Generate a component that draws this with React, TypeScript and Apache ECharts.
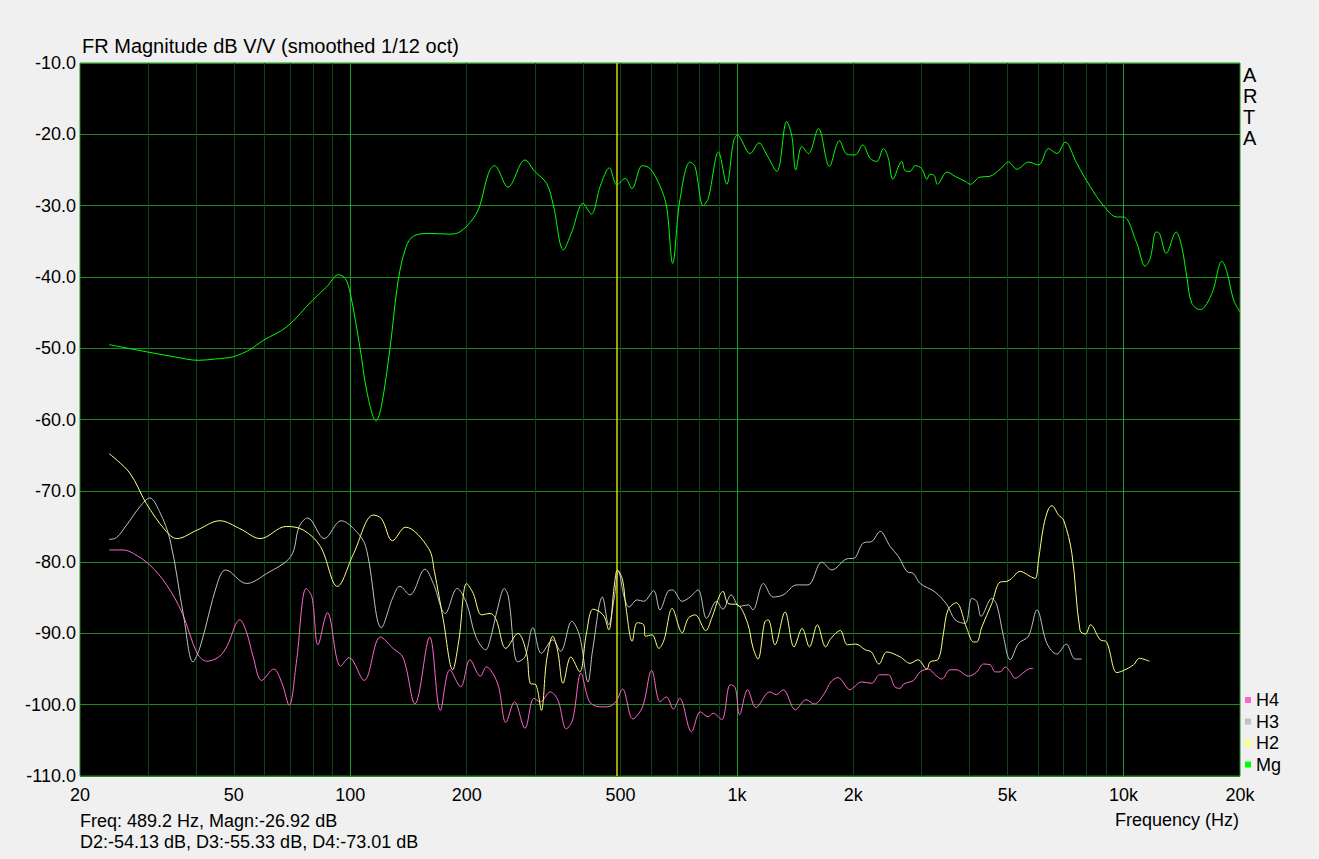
import React, { useEffect, useRef } from "react";
import * as echarts from "echarts";

const FONT = "'Liberation Sans', Arial, Helvetica, sans-serif";

// ---- axis / annotation data ----
const freqLabelValues = [20, 50, 100, 200, 500, 1000, 2000, 5000, 10000, 20000];
const freqLabelTexts = ["20", "50", "100", "200", "500", "1k", "2k", "5k", "10k", "20k"];
const minorGridFreqs = [30, 40, 50, 60, 70, 80, 90, 200, 300, 400, 500, 600, 700, 800, 900, 2000, 3000, 4000, 5000, 6000, 7000, 8000, 9000];
const majorGridFreqs = [100, 1000, 10000];
const cursorFreq = 489.2;
const dbMin = -110;
const dbMax = -10;
const dbStep = 10;

const titleText = "FR Magnitude dB V/V (smoothed 1/12 oct)";
const brandText = "A\nR\nT\nA";
const cursorLine1 = "Freq: 489.2 Hz, Magn:-26.92 dB";
const cursorLine2 = "D2:-54.13 dB, D3:-55.33 dB, D4:-73.01 dB";
const xAxisTitle = "Frequency (Hz)";

const legendOrder = ["H4", "H3", "H2", "Mg"];

// ---- series data: [frequency Hz, dB] ----
const magnitude: [number, number][] = [
  [23.8, -49.5], [29.7, -50.5], [35, -51.2], [40.5, -51.7], [45, -51.5], [49.8, -51.2], [55, -50.2],
  [59.6, -48.9], [68.5, -47], [80.1, -43.2], [86.9, -41.4], [93.2, -39.7], [97, -40.2], [100, -42.3],
  [106, -50], [110.6, -56.3], [116.6, -60.2], [120.3, -58.2], [126.7, -50], [133.1, -40.4], [139.4, -35.8],
  [145.6, -34.3], [160, -33.9], [180, -34], [192, -33.7], [208, -31.8], [216.6, -29.9], [227.6, -25.5],
  [236, -24.4], [240, -24.7], [256, -27.4], [283, -23.6], [300, -25.2], [322, -26.9], [335, -29.9],
  [356, -36.2], [374, -33.7], [400, -29.7], [420, -31.2], [443, -27.3], [468, -24.7], [489, -27.1],
  [514, -26.2], [535, -27.6], [569, -24.4], [596, -24.8], [633, -27.3], [658, -30.2], [682, -38.1],
  [712, -29.2], [756, -23.9], [779, -24.5], [818, -30], [843, -29], [896, -22.5], [941, -27], [979, -21.1],
  [1002, -20.1], [1082, -22.7], [1140, -21.2], [1195, -22.9], [1268, -25.2], [1345, -18.2], [1387, -20.3],
  [1420, -25], [1472, -21.7], [1530, -22.7], [1625, -19.2], [1734, -24.5], [1841, -20.9], [1924, -22.8],
  [2021, -22.9], [2115, -21.5], [2211, -23.4], [2300, -23.8], [2393, -22], [2465, -23.4], [2530, -26.3],
  [2669, -23.8], [2722, -25.1], [2805, -25.2], [2889, -24.4], [3004, -24.8], [3099, -26.3], [3159, -25.6],
  [3240, -25.8], [3300, -27], [3495, -25.3], [3667, -25.9], [3892, -26.6], [4010, -27], [4256, -26],
  [4507, -25.9], [4793, -24.9], [5039, -23.9], [5298, -24.9], [5673, -23.9], [6025, -24.3], [6397, -22],
  [6720, -22.7], [7060, -21.1], [7570, -24.1], [8190, -27.3], [8870, -30], [9609, -31.6], [10000, -31.6],
  [10820, -35.3], [11370, -38.5], [11715, -37.4], [12140, -33.7], [12380, -33.9], [12890, -36.7],
  [13670, -33.7], [14140, -35.8], [14570, -40], [15010, -43.7], [15780, -44.6], [16920, -42.3],
  [17960, -37.8], [18500, -39.3], [19240, -43.2], [20000, -44.9],
];

const harmonic2: [number, number][] = [
  [23.8, -64.8], [26.9, -67.5], [29.7, -71.8], [33.2, -75.5], [35.6, -76.7], [40.2, -75.5], [46, -74.2],
  [51.8, -75.3], [58.5, -76.7], [68.3, -75], [75.6, -75.5], [83.7, -77.8], [92.6, -83.4], [102, -78.8],
  [114.7, -73.4], [120.4, -73.9], [128.6, -77], [139, -75.1], [159.5, -78.1], [165, -81.3], [174, -88.1],
  [184, -95.1], [191, -90.9], [200, -83], [208, -84.4], [218.6, -87.4], [230, -87.2], [238.5, -88.1],
  [252.6, -92.1], [271.3, -90], [285.8, -92.8], [292, -97], [302, -97.2], [312, -100.8], [322, -93.7],
  [334, -90.4], [344, -92.5], [355, -97], [372, -93.3], [392, -95.4], [408, -90], [425, -86.6], [451, -87.4],
  [466, -89.5], [482, -83.2], [491, -81.1], [506, -82.5], [516, -86.2], [536, -91.1], [552, -88.5],
  [574, -88.8], [580, -90.4], [603, -90.2], [628, -92.1], [648, -90.9], [680, -86.5], [722, -89.9],
  [748, -87.9], [780, -87.4], [830, -89.6], [860, -87.9], [903, -84.6], [920, -84.1], [948, -85.8],
  [1005, -86], [1066, -88.6], [1099, -91.9], [1133, -93.6], [1180, -88.4], [1205, -88.1], [1254, -91.6],
  [1332, -87], [1405, -91.9], [1475, -89.3], [1540, -91.9], [1614, -88.8], [1696, -91.9], [1750, -90.7],
  [1850, -89.6], [1931, -91.6], [2030, -91.5], [2148, -92.3], [2227, -92.6], [2330, -94.3], [2441, -92.6],
  [2643, -93.3], [2805, -94.2], [2936, -93.7], [3099, -95], [3159, -94], [3320, -93.6], [3420, -90],
  [3515, -86.7], [3689, -85.7], [3931, -89.3], [4089, -91.2], [4171, -91.2], [4299, -89.1], [4562, -85.8],
  [4793, -82.8], [4996, -82.7], [5131, -82.3], [5400, -81.3], [5735, -82], [5906, -82.3], [6025, -79.7],
  [6207, -75], [6397, -72.5], [6528, -72.1], [6786, -73.4], [6995, -74.1], [7350, -78.8], [7716, -89.6],
  [7970, -90.1], [8212, -88.8], [8700, -90.9], [9036, -91.2], [9609, -95.5], [10000, -95.2],
  [10610, -94.4], [10990, -93.5], [11670, -93.9],
];

const harmonic3: [number, number][] = [
  [23.8, -76.8], [24.6, -76.7], [26.4, -74.8], [28.6, -72.2], [30.3, -71], [32.1, -72.9], [34.2, -76.9],
  [37.1, -87.7], [39.2, -94], [40.9, -91.9], [45.3, -83], [47.6, -81.1], [53.9, -83], [60.8, -81.6],
  [70.2, -79.2], [73.8, -75], [77.6, -73.8], [85.7, -76.7], [94.7, -74.2], [102, -75.3], [109.6, -77.8],
  [120.4, -89.2], [129, -84.9], [134.4, -83.4], [142.6, -84.6], [156, -81], [164, -83], [176, -87.2],
  [189, -83.7], [200, -85.8], [211, -90.4], [224, -92.3], [230, -90.9], [240, -86.7], [250.3, -83.7],
  [256.5, -84.9], [271, -94], [283, -93.3], [296.7, -89.2], [312, -92.8], [334, -90.9], [350, -92.5],
  [374, -88.3], [392, -90.4], [412, -96.8], [423.5, -92.3], [449, -84.9], [466, -88.8], [482, -84.9],
  [494, -81.3], [511, -84.9], [526, -86.3], [552, -85.3], [574, -85.5], [609, -84], [632, -86.7],
  [663, -84.1], [681, -83.9], [722, -85.5], [756, -84.9], [793, -83.9], [835, -87.9], [885, -85.5],
  [920, -86.6], [966, -84.6], [1015, -86.2], [1071, -86], [1099, -86.7], [1171, -83], [1241, -84.9],
  [1317, -84.6], [1428, -83.2], [1527, -83.2], [1658, -80], [1759, -81.1], [1943, -79.5], [2000, -79.5],
  [2125, -77.3], [2233, -77.1], [2346, -75.7], [2490, -77.8], [2616, -79.2], [2750, -81.3], [2860, -81.6],
  [2977, -83], [3255, -84.2], [3495, -86], [3667, -88.1], [3892, -88.6], [4050, -85.1], [4171, -85.5],
  [4281, -87.6], [4562, -85.1], [4700, -86], [4890, -90.4], [5090, -93.7], [5348, -91.4], [5673, -90.4],
  [5968, -86.7], [6334, -91.4], [6720, -92.9], [7104, -91.5], [7493, -93.6], [7795, -93.6],
];

const harmonic4: [number, number][] = [
  [23.8, -78.3], [25.9, -78.3], [27.5, -78.8], [30.3, -80.4], [33.5, -83.2], [36.8, -87.2], [40.2, -92.8],
  [42.6, -93.9], [45.7, -93.3], [47.9, -91.9], [51.8, -88.1], [53.9, -89.8], [56.1, -93.3], [59, -96.6],
  [63.4, -95], [66.6, -97], [69.5, -100.1], [72.5, -94.2], [76.9, -83.7], [79.6, -84.9], [82.5, -91.6],
  [87.3, -87.1], [94.4, -94.6], [99.3, -93.4], [108.6, -96.6], [119.7, -90.5], [129, -92.1], [137, -93.4],
  [147, -99.9], [160.5, -90.5], [171, -100.8], [181, -95.1], [193, -97.5], [204, -93.7], [217, -96],
  [225, -94.7], [233, -95.5], [242, -97.5], [252.6, -102.5], [266, -99.6], [283, -103.3], [298.6, -99.1],
  [310, -99.6], [329, -98.2], [344.6, -99.4], [362, -103.4], [376, -102.1], [395, -95.6], [416, -99.6],
  [442, -100.3], [463, -100.3], [486, -99.6], [506, -97.8], [538, -102], [570, -100.3], [602, -95.2],
  [633, -99.6], [657, -98.9], [685, -100.6], [711, -99.1], [763, -103.8], [804, -101], [842, -101.7],
  [868, -101.2], [913, -102.1], [961, -97.2], [990, -97.6], [1016, -101.4], [1066, -97.9], [1120, -100.4],
  [1216, -98.2], [1265, -98.6], [1317, -97.9], [1417, -100.7], [1510, -99.3], [1585, -99.9], [1684, -98.4],
  [1750, -96.8], [1825, -96.2], [1963, -97.9], [2000, -97.6], [2100, -96.8], [2230, -97], [2340, -95.8],
  [2465, -95.8], [2560, -97.5], [2643, -97.7], [2700, -97.1], [2860, -96.6], [2977, -95.4], [3127, -95],
  [3255, -95.8], [3388, -96.4], [3557, -95.1], [3690, -95.1], [3970, -96], [4171, -95.4], [4339, -94.3],
  [4516, -94.4], [4654, -95.4], [4793, -95.4], [4940, -94.7], [5090, -95.4], [5240, -96.3], [5480, -95.6],
  [5673, -95], [5840, -94.9],
];

const COLORS = {
  Mg: "#00ff00",
  H2: "#ffff80",
  H3: "#c0c0c0",
  H4: "#ff66cc",
  gridMinor: "#0a4618",
  gridMajor: "#14a02c",
  gridH: "#1f8a1f",
  cursor: "#d4d400",
};

function lineSeries(name: string, data: [number, number][], color: string, extra: any = {}) {
  return {
    name,
    type: "line",
    data,
    showSymbol: false,
    symbol: "none",
    smooth: 0.35,
    lineStyle: { color, width: 1 },
    itemStyle: { color },
    color,
    silent: true,
    animation: false,
    ...extra,
  };
}

export default function App() {
  const ref = useRef<HTMLDivElement>(null);

  useEffect(() => {
    if (!ref.current) return;
    const chart = echarts.init(ref.current, undefined, { renderer: "svg" });

    const gridLines = [
      ...minorGridFreqs.map((f) => ({ xAxis: f, lineStyle: { color: COLORS.gridMinor, width: 1, type: "solid" } })),
      ...majorGridFreqs.map((f) => ({ xAxis: f, lineStyle: { color: COLORS.gridMajor, width: 1, type: "solid" } })),
    ];

    const option: any = {
      animation: false,
      backgroundColor: "#f0f0f0",
      textStyle: { fontFamily: FONT },
      grid: {
        left: 80,
        top: 63,
        right: 79,
        bottom: 83,
        show: true,
        backgroundColor: "#000000",
        borderColor: COLORS.gridH,
        borderWidth: 1,
        containLabel: false,
      },
      xAxis: {
        type: "log",
        logBase: 10,
        min: 20,
        max: 20000,
        axisLine: { show: false },
        axisTick: { show: false },
        splitLine: { show: false },
        minorTick: { show: false },
        minorSplitLine: { show: false },
        axisLabel: {
          customValues: freqLabelValues,
          formatter: (v: number) => {
            const i = freqLabelValues.findIndex((x) => Math.abs(x - v) / x < 1e-6);
            if (i >= 0) return freqLabelTexts[i];
            return v >= 1000 ? `${v / 1000}k` : `${v}`;
          },
          color: "#000",
          fontSize: 18,
          fontFamily: FONT,
          margin: 10,
          showMinLabel: true,
          showMaxLabel: true,
          hideOverlap: false,
        },
      },
      yAxis: {
        type: "value",
        min: dbMin,
        max: dbMax,
        interval: dbStep,
        axisLine: { show: false },
        axisTick: { show: false },
        splitLine: { show: true, lineStyle: { color: COLORS.gridH, width: 1 } },
        axisLabel: {
          formatter: (v: number) => v.toFixed(1),
          color: "#000",
          fontSize: 18,
          fontFamily: FONT,
          margin: 4,
        },
      },
      legend: {
        data: legendOrder,
        orient: "vertical",
        left: 1245,
        top: 691,
        icon: "rect",
        itemWidth: 6,
        itemHeight: 6,
        itemGap: 3.5,
        padding: 0,
        selectedMode: false,
        textStyle: { fontSize: 18, fontFamily: FONT, color: "#000", lineHeight: 18, padding: 0 },
      },
      graphic: [
        {
          type: "text",
          x: 82,
          y: 36,
          silent: true,
          style: { text: titleText, fontSize: 20, fontFamily: FONT, fill: "#000", textVerticalAlign: "top" },
        },
        {
          type: "text",
          x: 1243,
          y: 64,
          silent: true,
          style: { text: brandText, fontSize: 20, lineHeight: 21, fontFamily: FONT, fill: "#000", textVerticalAlign: "top" },
        },
        {
          type: "text",
          x: 80,
          y: 812,
          silent: true,
          style: { text: cursorLine1, fontSize: 18, fontFamily: FONT, fill: "#000", textVerticalAlign: "top" },
        },
        {
          type: "text",
          x: 80,
          y: 833,
          silent: true,
          style: { text: cursorLine2, fontSize: 18, fontFamily: FONT, fill: "#000", textVerticalAlign: "top" },
        },
        {
          type: "text",
          x: 1239,
          y: 811,
          silent: true,
          style: { text: xAxisTitle, fontSize: 18, fontFamily: FONT, fill: "#000", textAlign: "right", textVerticalAlign: "top" },
        },
      ],
      series: [
        lineSeries("H4", harmonic4, COLORS.H4, {
          markLine: {
            silent: true,
            symbol: ["none", "none"],
            z: 1,
            animation: false,
            label: { show: false },
            emphasis: { disabled: true },
            data: gridLines,
          },
        }),
        lineSeries("H3", harmonic3, COLORS.H3),
        lineSeries("H2", harmonic2, COLORS.H2),
        lineSeries("Mg", magnitude, COLORS.Mg, {
          markLine: {
            silent: true,
            symbol: ["none", "none"],
            z: 1.5,
            animation: false,
            label: { show: false },
            emphasis: { disabled: true },
            data: [{ xAxis: cursorFreq, lineStyle: { color: COLORS.cursor, width: 1.5, type: "solid" } }],
          },
        }),
      ],
    };

    chart.setOption(option);
    return () => chart.dispose();
  }, []);

  return (
    <div
      ref={ref}
      style={{ position: "absolute", left: 0, top: 0, width: 1319, height: 859, background: "#f0f0f0" }}
    />
  );
}
